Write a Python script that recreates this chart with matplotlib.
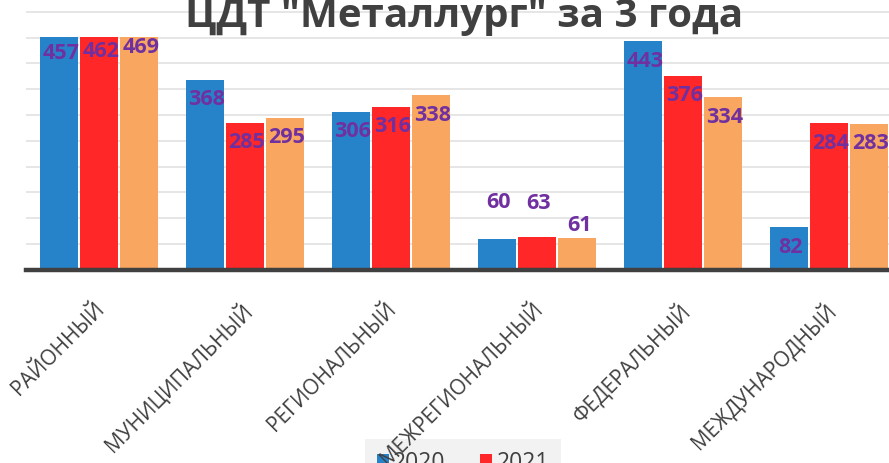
import matplotlib
matplotlib.use("Agg")
import matplotlib.pyplot as plt
from matplotlib.patches import Rectangle
from matplotlib.transforms import ScaledTranslation
import numpy as np

categories = ["РАЙОННЫЙ", "МУНИЦИПАЛЬНЫЙ", "РЕГИОНАЛЬНЫЙ",
              "МЕЖРЕГИОНАЛЬНЫЙ", "ФЕДЕРАЛЬНЫЙ", "МЕЖДУНАРОДНЫЙ"]
years = ["2020", "2021", "2022"]
values_2020 = [457, 368, 306, 60, 443, 82]
values_2021 = [462, 285, 316, 63, 376, 284]
values_2022 = [469, 295, 338, 61, 334, 283]
title = 'ЦДТ "Металлург" за 3 года'

series = [values_2020, values_2021, values_2022]
colors = ["#2783C9", "#FF2727", "#F8A660"]
label_color = "#7030A0"
text_color = "#404040"
FONT = "Open Sans"

W, H, DPI = 889, 464, 100
PT = 72 / DPI  # points per pixel

fig = plt.figure(figsize=(W / DPI, H / DPI), dpi=DPI)

# axes geometry (pixels)
left_px, right_px = 26, 902
zero_px = 270.8
px_per_unit = 0.516
ymax = 510
top_px = zero_px - ymax * px_per_unit
ax = fig.add_axes([left_px / W, (H - zero_px) / H,
                   (right_px - left_px) / W, (zero_px - top_px) / H])

x = np.arange(len(categories))
bar_w = 0.26
step = 0.274
clip = Rectangle((-0.5, 0), 6, 451, transform=ax.transData)

containers = []
for i, (vals, c) in enumerate(zip(series, colors)):
    bc = ax.bar(x + (i - 1) * step, vals, width=bar_w, color=c, zorder=2,
                label=years[i])
    for b in bc:
        b.set_clip_path(clip)
    containers.append(bc)

# data labels: inside end by default, manual shifts for small bars
label_shift_px = {(0, 3): 37, (1, 3): 35, (2, 3): 14}
for i, vals in enumerate(series):
    for j, v in enumerate(vals):
        shift = label_shift_px.get((i, j), -19)
        ax.annotate(str(v), xy=(x[j] + (i - 1) * step, v),
                    xytext=(2 * PT, shift * PT), textcoords="offset points",
                    ha="center", va="center", fontsize=15.5,
                    fontweight="bold", color=label_color, family=FONT,
                    zorder=4)

ax.set_xlim(-0.5, 5.5)
ax.set_ylim(0, ymax)
ax.set_yticks(np.arange(50, 501, 50))
ax.yaxis.grid(True, color="#E4E4E4", linewidth=1.3)
ax.set_axisbelow(True)
ax.tick_params(axis="y", left=False, labelleft=False)

for s in ["left", "right", "top"]:
    ax.spines[s].set_visible(False)
ax.spines["bottom"].set_color("#404040")
ax.spines["bottom"].set_linewidth(3.2)
ax.spines["bottom"].set_zorder(3)

ax.set_xticks(x)
ax.set_xticklabels(categories, rotation=45, ha="right", va="top",
                   rotation_mode="anchor", fontsize=15, color=text_color,
                   family=FONT)
ax.tick_params(axis="x", length=0, pad=20)
for lab in ax.get_xticklabels():
    lab.set_transform(lab.get_transform() +
                      ScaledTranslation(-5 / DPI, 0, fig.dpi_scale_trans))

fig.text(464 / W, 1 - 27 / H, title, ha="center", va="baseline",
         fontsize=29, fontweight="bold", color=text_color, family=FONT)

h = containers
leg = fig.legend(handles=[h[0], h[2], h[1]], labels=[years[0], years[2], years[1]],
                 ncol=2, loc="upper center",
                 bbox_to_anchor=(463 / W, 1 - 440 / H),
                 frameon=True, facecolor="#F2F2F2", edgecolor="none",
                 fancybox=False, framealpha=1,
                 prop={"family": FONT, "size": 16.5},
                 labelcolor=text_color, handlelength=0.52, handleheight=0.52,
                 handletextpad=0.2, columnspacing=1.5, borderaxespad=0,
                 borderpad=0.5)
leg.set_zorder(-1)

fig.savefig("out.png", dpi=DPI)
